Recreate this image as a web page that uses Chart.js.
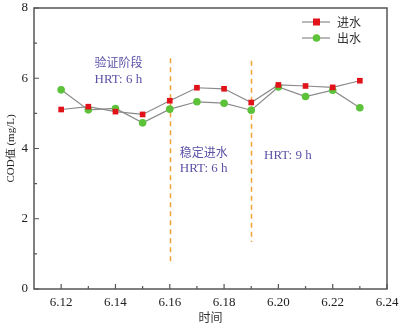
<!DOCTYPE html>
<html>
<head>
<meta charset="utf-8">
<script src="https://cdn.jsdelivr.net/npm/chart.js@4/dist/chart.umd.min.js"></script>
<style>
  html, body { margin: 0; padding: 0; background: #fff; }
  #wrap { width: 401px; height: 327px; }
</style>
</head>
<body>
<div id="wrap"><canvas id="chart" width="401" height="327"></canvas></div>
<script>
// data
const dates = [6.12, 6.13, 6.14, 6.15, 6.16, 6.17, 6.18, 6.19, 6.20, 6.21, 6.22, 6.23];
const inflow = [5.11, 5.19, 5.05, 4.97, 5.36, 5.73, 5.70, 5.31, 5.81, 5.78, 5.74, 5.93];
const outflow = [5.67, 5.10, 5.14, 4.73, 5.12, 5.33, 5.29, 5.09, 5.75, 5.48, 5.66, 5.16];
const seriesNames = ['进水', '出水'];
const xTicks = [6.12, 6.14, 6.16, 6.18, 6.20, 6.22, 6.24];
const xMinor = [6.13, 6.15, 6.17, 6.19, 6.21, 6.23];
const yTicks = [0, 2, 4, 6, 8];
const yMinor = [1, 3, 5, 7];
// phase dividers: [date, yFrom, yTo]
const dividers = [[6.16, 0.77, 6.57], [6.19, 1.34, 6.5]];
// phase notes: [date, y, lines]
const notes = [
  [6.1323, 6.45, ['验证阶段', 'HRT: 6 h']],
  [6.1637, 3.9, ['稳定进水', 'HRT: 6 h']],
  [6.1947, 3.79, ['HRT: 9 h']]
];

const serif = '"Liberation Serif", "Times New Roman", serif';
const cjk = '"Noto Sans CJK SC", sans-serif';
const red = '#e2121b';
const green = '#5cc23a';
const lineGray = '#8a8a8a';
const axisColor = '#555';
const noteColor = '#5a52a6';

function toPoints(vals) {
  return dates.map((d, i) => ({ x: d, y: vals[i] }));
}

const decor = {
  id: 'decor',
  beforeDatasetsDraw(chart) {
    const { ctx, chartArea: a, scales: { x, y } } = chart;
    ctx.save();
    // dashed phase lines
    ctx.strokeStyle = '#f0a23a';
    ctx.lineWidth = 1.5;
    ctx.setLineDash([5, 4]);
    dividers.forEach(([d, y0, y1]) => {
      const px = Math.round(x.getPixelForValue(d)) + 0.5;
      ctx.beginPath();
      ctx.moveTo(px, y.getPixelForValue(y1));
      ctx.lineTo(px, y.getPixelForValue(y0));
      ctx.stroke();
    });
    ctx.setLineDash([]);
    // notes
    ctx.fillStyle = noteColor;
    ctx.textAlign = 'left';
    ctx.textBaseline = 'middle';
    notes.forEach(([d, v, lines]) => {
      const px = x.getPixelForValue(d);
      const py = y.getPixelForValue(v);
      lines.forEach((t, i) => {
        ctx.font = /[\u4e00-\u9fff]/.test(t) ? '12px ' + cjk : '13px ' + serif;
        ctx.fillText(t, px, py + i * 17);
      });
    });
    ctx.restore();
  },
  afterDraw(chart) {
    const { ctx, chartArea: a, scales: { x, y } } = chart;
    ctx.save();
    ctx.strokeStyle = axisColor;
    ctx.lineWidth = 1.5;
    ctx.strokeRect(a.left, a.top, a.right - a.left, a.bottom - a.top);
    ctx.lineWidth = 1.2;
    ctx.beginPath();
    xTicks.forEach(v => { const p = x.getPixelForValue(v); ctx.moveTo(p, a.bottom); ctx.lineTo(p, a.bottom - 5); });
    xMinor.forEach(v => { const p = x.getPixelForValue(v); ctx.moveTo(p, a.bottom); ctx.lineTo(p, a.bottom - 3); });
    yTicks.forEach(v => { const p = y.getPixelForValue(v); ctx.moveTo(a.left, p); ctx.lineTo(a.left + 5, p); });
    yMinor.forEach(v => { const p = y.getPixelForValue(v); ctx.moveTo(a.left, p); ctx.lineTo(a.left + 3, p); });
    ctx.stroke();
    // legend
    const lx = 302, ly = 22;
    [[red, 'rect'], [green, 'circle']].forEach(([c, shape], i) => {
      const yy = ly + i * 16;
      ctx.strokeStyle = lineGray;
      ctx.lineWidth = 1.2;
      ctx.beginPath();
      ctx.moveTo(lx, yy); ctx.lineTo(lx + 28, yy);
      ctx.stroke();
      ctx.fillStyle = c;
      if (shape === 'rect') ctx.fillRect(lx + 11, yy - 3.5, 7, 7);
      else { ctx.beginPath(); ctx.arc(lx + 14.5, yy, 3.8, 0, Math.PI * 2); ctx.fill(); }
      ctx.fillStyle = '#333';
      ctx.font = '12px ' + cjk;
      ctx.textAlign = 'left';
      ctx.textBaseline = 'middle';
      ctx.fillText(seriesNames[i], lx + 35, yy);
    });
    ctx.restore();
  }
};

new Chart(document.getElementById('chart'), {
  type: 'line',
  data: {
    datasets: [
      {
        label: seriesNames[0],
        data: toPoints(inflow),
        borderColor: lineGray,
        borderWidth: 1.2,
        pointStyle: 'rect',
        pointRadius: 4,
        pointBackgroundColor: red,
        pointBorderWidth: 0,
        tension: 0
      },
      {
        label: seriesNames[1],
        data: toPoints(outflow),
        borderColor: lineGray,
        borderWidth: 1.2,
        pointStyle: 'circle',
        pointRadius: 3.8,
        pointBackgroundColor: green,
        pointBorderWidth: 0,
        tension: 0
      }
    ]
  },
  options: {
    responsive: false,
    animation: false,
    layout: { padding: { top: 8, right: 14, left: 0, bottom: 0 } },
    plugins: { legend: { display: false }, tooltip: { enabled: false } },
    scales: {
      x: {
        type: 'linear',
        min: 6.11,
        max: 6.24,
        afterBuildTicks: s => { s.ticks = xTicks.map(v => ({ value: v })); },
        afterFit: s => { s.height = 38; s.paddingRight = 0; s.paddingLeft = 0; },
        grid: { display: false, drawTicks: false },
        border: { display: false },
        ticks: {
          color: '#222',
          font: { family: serif, size: 13 },
          padding: 6,
          maxRotation: 0,
          callback: v => v.toFixed(2)
        },
        title: {
          display: true,
          text: '时间',
          color: '#333',
          font: { family: cjk, size: 12 },
          padding: { top: 0, bottom: 2 }
        }
      },
      y: {
        min: 0,
        max: 8,
        afterBuildTicks: s => { s.ticks = yTicks.map(v => ({ value: v })); },
        afterFit: s => { s.width = 34; s.paddingTop = 0; s.paddingBottom = 0; },
        grid: { display: false, drawTicks: false },
        border: { display: false },
        ticks: {
          color: '#222',
          font: { family: serif, size: 13 },
          padding: 6
        },
        title: {
          display: true,
          text: 'COD值 (mg/L)',
          color: '#222',
          font: { family: serif, size: 11 },
          padding: { top: 5, bottom: 0 }
        }
      }
    }
  },
  plugins: [decor]
});
</script>
</body>
</html>
